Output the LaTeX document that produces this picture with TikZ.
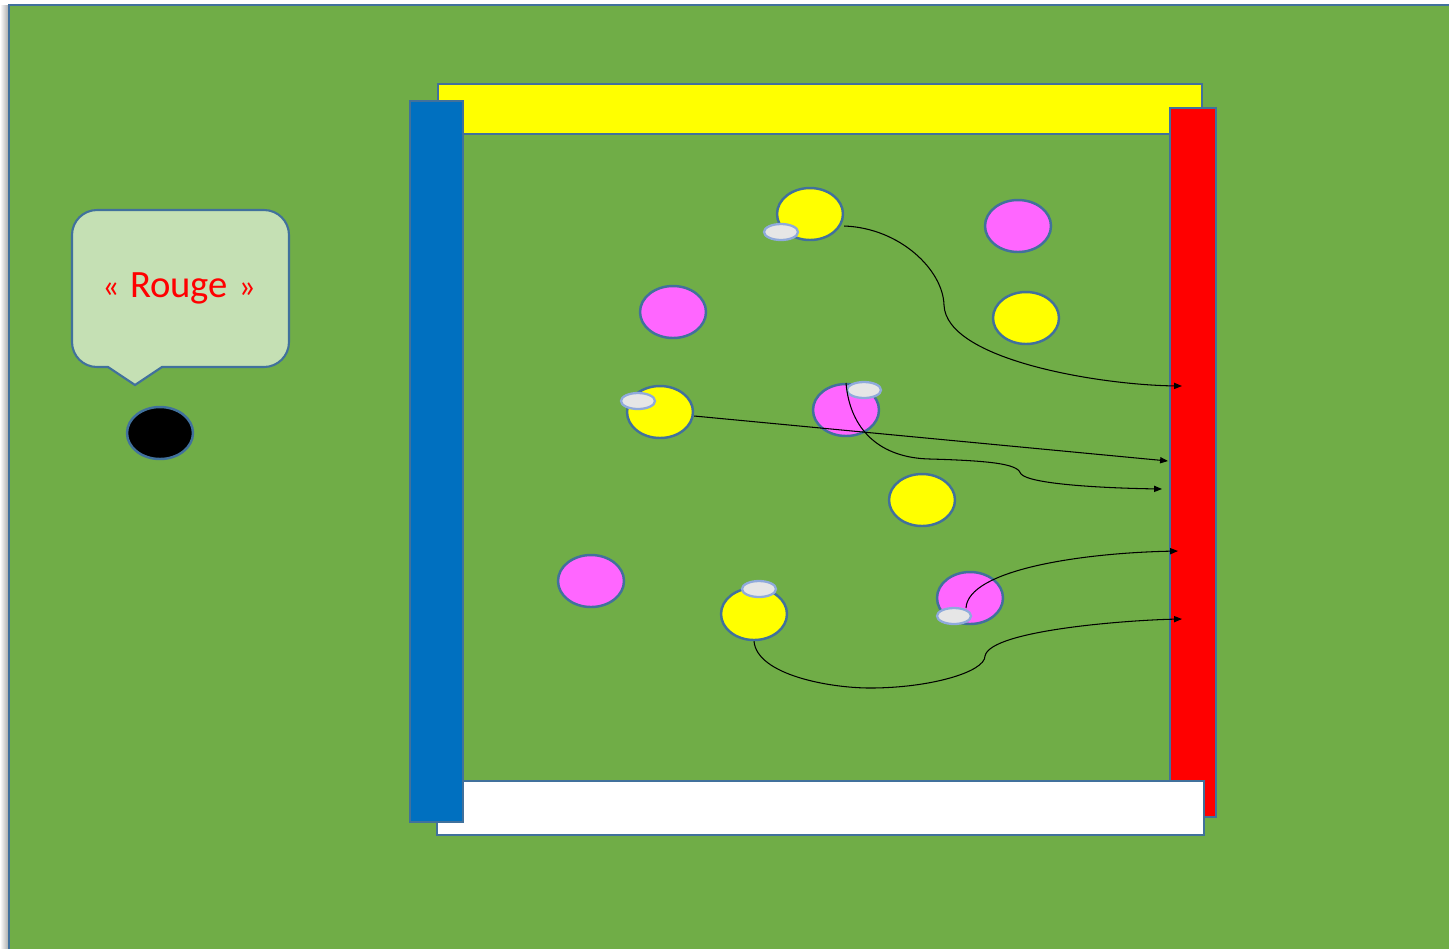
\documentclass[tikz,border=0pt]{standalone}
\usepackage{fontspec}
\setmainfont{Carlito}
\usetikzlibrary{positioning,arrows.meta,shapes.geometric}
\definecolor{terrainVert}{HTML}{70AD47}
\definecolor{bordBleu}{HTML}{41719C}
\definecolor{bancBleu}{HTML}{0070C0}
\definecolor{jauneVif}{HTML}{FFFF00}
\definecolor{rougeVif}{HTML}{FF0000}
\definecolor{joueurRoseC}{HTML}{FF66FF}
\definecolor{bulleVert}{HTML}{C5E0B4}
\definecolor{plotGrisC}{HTML}{E6E6E6}
\definecolor{plotBord}{HTML}{8FAADC}
\tikzset{
  bande/.style={draw=bordBleu, line width=1.2pt},
  joueurJaune/.style={ellipse, draw=bordBleu, line width=1.4pt, fill=jauneVif,
    minimum width=1.32cm, minimum height=1.04cm, inner sep=0pt},
  joueurRose/.style={joueurJaune, fill=joueurRoseC},
  plotGris/.style={ellipse, draw=plotBord, line width=1.3pt, fill=plotGrisC,
    minimum width=0.68cm, minimum height=0.32cm, inner sep=0pt},
  passe/.style={-{Triangle[length=4.5pt,width=3.5pt]}, line width=0.6pt, black},
}

\begin{document}
\begin{tikzpicture}[x=0.02cm, y=-0.02cm]
  \useasboundingbox (0,0) rectangle (1449,948);
  % terrain
  \shade[left color=white, right color=black!35] (0,5) rectangle (9,948);
  \fill[terrainVert, draw=bordBleu, line width=1.2pt] (9,5) rectangle (1453,952);

  % bandes
  \draw[bande, fill=jauneVif] (438,84)  rectangle (1202,134);
  \draw[bande, fill=rougeVif] (1170,108) rectangle (1216,817);
  \draw[bande, fill=white]    (437,781) rectangle (1204,835);
  \draw[bande, fill=bancBleu] (410,101) rectangle (463,822);

  % bulle
  \draw[bande, fill=bulleVert] (108,367) -- (135,385) -- (162,367)
    {[rounded corners=0.5cm] -- (289,367) -- (289,210) -- (72,210) -- (72,367)} -- cycle;
  \node[text=rougeVif, inner sep=0pt] (bulle) at (179,288)
    {{\fontsize{19}{21}\selectfont «}\hspace{6pt}{\fontsize{22}{26}\selectfont Rouge}\hspace{6pt}{\fontsize{19}{21}\selectfont »}};
  \node[joueurJaune, fill=black] (arbitre) at (160,433) {};

  % joueurs
  \node[joueurJaune] (j1) at (810,214) {};
  \node[joueurRose]  (r1) at (1018,226) {};
  \node[joueurRose]  (r2) at (673,312) {};
  \node[joueurJaune] (j2) at (1026,318) {};
  \node[joueurJaune] (j3) at (660,412) {};
  \node[joueurRose]  (r3) at (846,410) {};
  \node[joueurJaune] (j4) at (922,500) {};
  \node[joueurRose]  (r4) at (591,581) {};
  \node[joueurJaune] (j5) at (754,614) {};
  \node[joueurRose]  (r5) at (970,598) {};

  % plots
  \node[plotGris] (p1) at (781,232) {};
  \node[plotGris] (p3) at (638,401) {};
  \node[plotGris] (p4) at (864,390) {};
  \node[plotGris] (p5) at (759,589) {};
  \node[plotGris] (p6) at (954,616) {};

  % cibles sur la bande rouge
  \coordinate (c1) at (1182,386);
  \coordinate (c2) at (1168,461);
  \coordinate (c3) at (1162,489);
  \coordinate (c4) at (1178,551);
  \coordinate (c5) at (1182,619);

  \draw[passe] (j1.east |- 0,226) .. controls (900,228) and (943,270) .. (944,305)
    .. controls (946,360) and (1100,385) .. (c1);
  \draw[passe] (j3.east |- 0,416) -- (c2);
  \draw[passe] (846,383) .. controls (850,430) and (880,458) .. (930,459)
    .. controls (1000,461) and (1018,465) .. (1021,474)
    .. controls (1030,484) and (1100,488) .. (c3);
  \draw[passe] (966,608) .. controls (968,570) and (1080,553) .. (c4);
  \draw[passe] (j5.south) .. controls (757,675) and (830,688) .. (870,688)
    .. controls (930,688) and (985,672) .. (985,656)
    .. controls (990,630) and (1130,620) .. (c5);
\end{tikzpicture}
\end{document}
